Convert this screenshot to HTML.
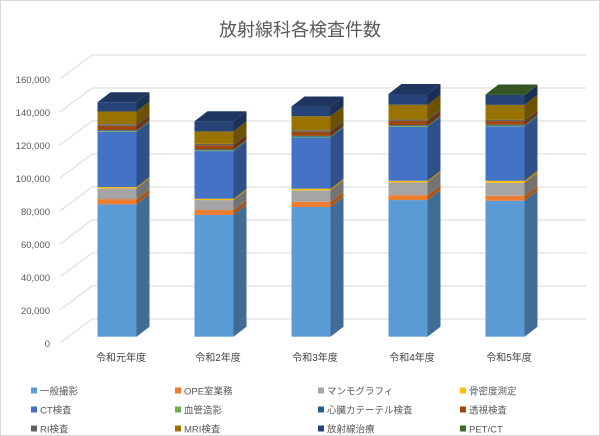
<!DOCTYPE html>
<html><head><meta charset="utf-8"><style>
body{margin:0;background:#fff}
svg{display:block;font-family:"Liberation Sans","Noto Sans CJK JP",sans-serif}
</style></head><body>
<svg id="c" width="600" height="436" viewBox="0 0 600 436">
<rect x="0.5" y="0.5" width="599" height="435" fill="#fff" stroke="#d9d9d9"/>
<text x="300" y="36" text-anchor="middle" font-size="18" fill="#595959">放射線科各検査件数</text>
<g id="grid"></g><g id="bars"></g><g id="legend"></g>
</svg>
<script>
const categories=["令和元年度","令和2年度","令和3年度","令和4年度","令和5年度"];
const seriesNames=["一般撮影","OPE室業務","マンモグラフィ","骨密度測定","CT検査","血管造影","心臓カテーテル検査","透視検査","RI検査","MRI検査","放射線治療","PET/CT"];
const s0=[80200,73800,78600,82800,82400];
const s1=[3200,3000,3200,3000,3000];
const s2=[6500,6000,6900,7700,7900];
const s3=[800,800,1000,1000,1200];
const s4=[33500,28900,31000,32700,33000];
const s5=[500,500,500,500,500];
const s6=[500,500,500,500,500];
const s7=[2600,2600,2400,2600,2200];
const s8=[1000,800,1000,800,800];
const s9=[7700,7500,8500,9000,9000];
const s10=[5600,6200,5900,6500,6000];
const s11=[0,0,0,0,300];
const yTicks=[0,20000,40000,60000,80000,100000,120000,140000,160000];
const series=[s0,s1,s2,s3,s4,s5,s6,s7,s8,s9,s10,s11];
const colors=["#5b9bd5","#ed7d31","#a5a5a5","#ffc000","#4472c4","#70ad47","#255e91","#9e480e","#636363","#997300","#264478","#43682b"];
const NS="http://www.w3.org/2000/svg";
const K=0.00165;
function yFront(v){return 336.7-v*K;}
function yBack(v){return 319-v*K;}
function xCenter(i){return 117+i*97;}
function shade(hex,f){const n=parseInt(hex.slice(1),16);const r=Math.round(((n>>16)&255)*f),g=Math.round(((n>>8)&255)*f),b=Math.round((n&255)*f);return "rgb("+r+","+g+","+b+")";}
function mk(tag,attrs,parent){const e=document.createElementNS(NS,tag);for(const k in attrs)e.setAttribute(k,attrs[k]);parent.appendChild(e);return e;}
const grid=document.getElementById('grid');
yTicks.forEach(t=>{
 const l=mk('polyline',{points:"60,"+(343-t*K)+" 92,"+yBack(t)+" 586,"+yBack(t),fill:"none",stroke:"#d9d9d9","stroke-width":"1"},grid);
 
 
 const tx=mk('text',{x:50,y:343-t*K+4,"text-anchor":"end","font-size":"9.5",fill:"#595959"},grid);
 tx.textContent=t.toLocaleString('en-US');
 
 
});
const bars=document.getElementById('bars');
const W=39,DX=13,DY=10;
categories.forEach((c,i)=>{
 const x0=xCenter(i)-W/2;let cum=0;let lastColor=colors[0];
 series.forEach((s,j)=>{
  const v=s[i];if(v<=0)return;
  const yb=yFront(cum),yt=yFront(cum+v);
  const g=mk('g',{},bars);
  
  
  mk('rect',{x:x0,y:yt,width:W,height:yb-yt,fill:colors[j]},g);
  mk('polygon',{points:(x0+W)+","+yb+" "+(x0+W+DX)+","+(yb-DY)+" "+(x0+W+DX)+","+(yt-DY)+" "+(x0+W)+","+yt,fill:shade(colors[j],0.7)},g);
  cum+=v;lastColor=colors[j];
 });
 const yt=yFront(cum);
 const top=mk('polygon',{points:x0+","+yt+" "+(x0+DX)+","+(yt-DY)+" "+(x0+W+DX)+","+(yt-DY)+" "+(x0+W)+","+yt,fill:shade(lastColor,0.8)},bars);
 
 
 const lb=mk('text',{x:xCenter(i)+4,y:361,"text-anchor":"middle","font-size":"10",fill:"#404040"},bars);
 lb.textContent=c;
 
 
});
const legend=document.getElementById('legend');
const lx=[31,175,318,460],ly=[391,410,429];
seriesNames.forEach((n,k)=>{
 const x=lx[k%4],y=ly[Math.floor(k/4)];
 const g=mk('g',{},legend);
 
 
 mk('rect',{x:x,y:y-3.5,width:6,height:6,fill:colors[k]},g);
 const t=mk('text',{x:x+9,y:y+3.5,"font-size":"9.5",fill:"#595959"},g);
 t.textContent=n;
});
</script>
</body></html>
